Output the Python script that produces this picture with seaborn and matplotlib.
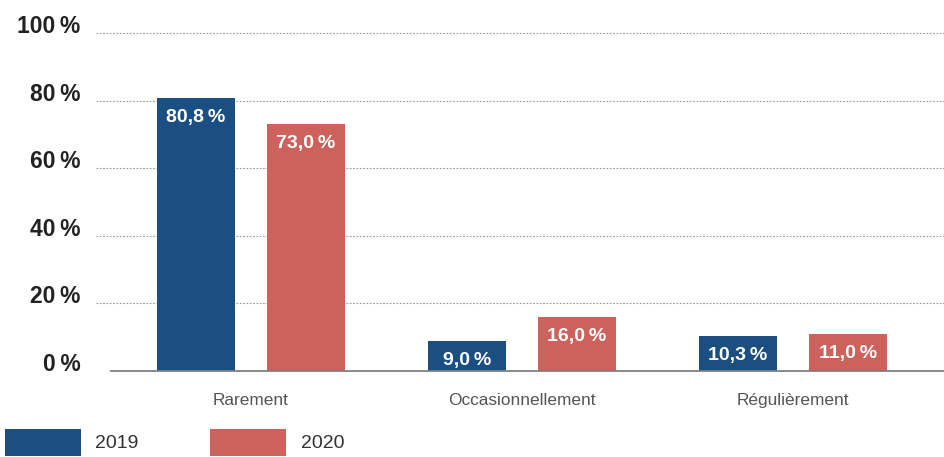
import numpy as np
import pandas as pd
import matplotlib
matplotlib.use("Agg")
import matplotlib.pyplot as plt
import seaborn as sns

# data
categories = ["Rarement", "Occasionnellement", "Régulièrement"]
years = ["2019", "2020"]
values_2019 = [80.8, 9.0, 10.3]
values_2020 = [73.0, 16.0, 11.0]
y_ticks = [0, 20, 40, 60, 80, 100]

BLUE = "#1b4f81"
RED = "#cd615b"
TS = "\u2009"  # thin space before %

sns.set_style("white")
plt.rcParams["font.family"] = ["Liberation Sans", "DejaVu Sans"]

df = pd.DataFrame({
    "cat": categories * 2,
    "year": [years[0]] * 3 + [years[1]] * 3,
    "val": values_2019 + values_2020,
})

fig = plt.figure(figsize=(9.45, 4.57), dpi=100)
ax = fig.add_axes([96 / 945, 0.188, 1 - 96 / 945, 0.7547])

sns.barplot(data=df, x="cat", y="val", hue="year", order=categories,
            hue_order=years, palette=[BLUE, RED], width=0.812, gap=0.29,
            linewidth=0, saturation=1, ax=ax)

ax.set_xlim(-0.572, 2.561)
ax.set_ylim(0, 102)
ax.set_xlabel("")
ax.set_ylabel("")

# gridlines
ax.set_yticks(y_ticks)
for t in y_ticks[1:]:
    ax.axhline(t, color="#9a9a9a", lw=0.8, ls=(0, (1.5, 1.5)), zorder=0)
ax.set_yticklabels([f"{t}{TS}%" for t in y_ticks], fontsize=16.5,
                   fontweight="bold", color="#222222")
for lab in ax.get_yticklabels():
    lab.set_va("baseline")
ax.tick_params(axis="y", length=0, pad=11)

# x axis
for s in ["top", "right", "left"]:
    ax.spines[s].set_visible(False)
ax.spines["bottom"].set_color("#808080")
ax.spines["bottom"].set_linewidth(1.3)
ax.spines["bottom"].set_bounds(-0.517, 2.561)
ax.set_xticks([-0.5, 0.5, 1.5], minor=True)
ax.tick_params(axis="x", which="minor", length=9, direction="inout",
               color="#808080", width=1)
ax.tick_params(axis="x", which="major", length=0, pad=16)
ax.set_xticklabels(categories, fontsize=12.4, color="#555555")

# value labels inside the bars
for cont in ax.containers:
    for bar in cont:
        h = bar.get_height()
        txt = f"{h:.1f}".replace(".", ",") + TS + "%"
        ax.annotate(txt, (bar.get_x() + bar.get_width() / 2, h),
                    xytext=(0, -14), textcoords="offset points",
                    ha="center", va="center", color="white",
                    fontsize=14, fontweight="bold")

# legend at bottom left
handles, labels = ax.get_legend_handles_labels()
ax.legend_.remove()
fig.legend(handles, labels, loc="upper left", bbox_to_anchor=(0.005, 0.062),
           ncol=2, frameon=False, fontsize=14, handlelength=3.9,
           handleheight=1.75, handletextpad=0.75, columnspacing=3.7,
           borderpad=0, borderaxespad=0, labelcolor="#333333")

fig.savefig("out.png", dpi=100)
